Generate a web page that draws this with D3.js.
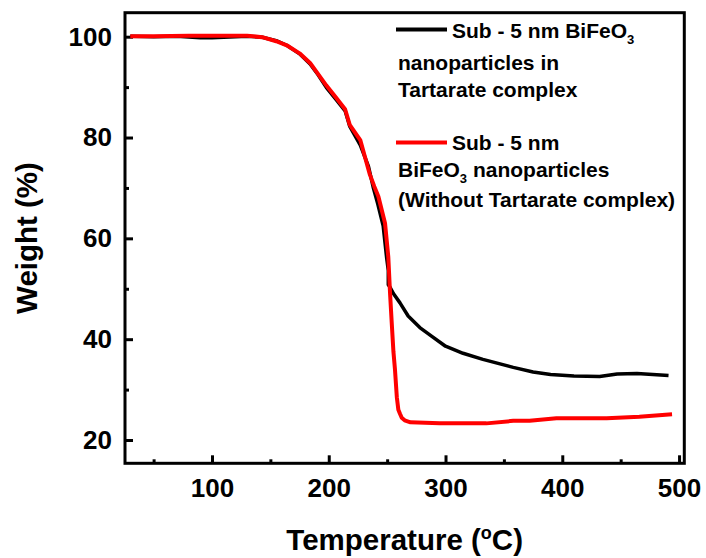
<!DOCTYPE html>
<html>
<head>
<meta charset="utf-8">
<script src="https://cdn.jsdelivr.net/npm/d3@7"></script>
<style>
  body { margin: 0; background: #fff; }
  text { font-family: "Liberation Sans", Arial, sans-serif; font-weight: bold; fill: #000; }
</style>
</head>
<body>
<div id="chart"></div>
<script>
// TGA curves
const tempTartrate = [30, 50, 70, 90, 100, 110, 130, 143, 155, 164, 175, 184, 191, 198, 206, 214, 218, 227, 234, 238, 242, 246.6, 249.5, 251, 251, 252.5, 255.5, 261, 268, 278, 288, 300, 315, 332, 358, 375, 390, 410, 432, 447, 464, 491];
const weightTartrate = [100.1, 100, 100.1, 99.8, 99.8, 99.9, 100.1, 99.9, 99.2, 98.3, 96.6, 94.6, 92.4, 89.9, 87.6, 85.3, 82.2, 78.5, 74.3, 70.2, 66.8, 62.5, 56.3, 53.6, 50.8, 50.3, 49, 47.2, 44.6, 42.3, 40.6, 38.6, 37.2, 36.0, 34.4, 33.5, 33.0, 32.7, 32.6, 33.1, 33.2, 32.8];

const tempPlain = [30, 50, 80, 110, 130, 143, 155, 164, 175, 184, 198, 206, 214, 218, 227, 235, 239, 242.5, 248.2, 251, 252.5, 253.8, 255.4, 256.7, 258.3, 259.6, 261, 262.5, 265, 270, 295, 335, 358, 372, 395, 438, 466, 494];
const weightPlain = [100.1, 100.1, 100.2, 100.2, 100.2, 99.9, 99.1, 98.3, 96.7, 94.8, 90.3, 88, 85.6, 82.5, 79.5, 72.8, 70.3, 68.3, 63.0, 56.3, 49.1, 43.8, 37.5, 34, 28.5, 26, 25.2, 24.4, 23.9, 23.5, 23.3, 23.3, 23.8, 23.8, 24.3, 24.3, 24.6, 25.1];

const xMajor = [100, 200, 300, 400, 500];
const xMinor = [50, 150, 250, 350, 450];
const yMajor = [20, 40, 60, 80, 100];
const yMinor = [30, 50, 70, 90];

const width = 706, height = 558;
const margin = {top: 12.7, right: 21.7, bottom: 94.7, left: 125};

const svg = d3.select("#chart").append("svg")
  .attr("width", width)
  .attr("height", height);

const x = d3.scaleLinear().domain([25.5, 504.5]).range([margin.left, width - margin.right]);
const y = d3.scaleLinear().domain([15.38, 104.76]).range([height - margin.bottom, margin.top]);

const bottomY = height - margin.bottom;

// axes, ticks point inward
svg.append("g")
  .attr("transform", `translate(0,${bottomY})`)
  .call(d3.axisBottom(x).tickValues(xMajor).tickSizeInner(-8).tickSizeOuter(0).tickPadding(15));
svg.append("g")
  .attr("transform", `translate(0,${bottomY})`)
  .call(d3.axisBottom(x).tickValues(xMinor).tickSizeInner(-4).tickSizeOuter(0).tickFormat(""));

svg.append("g")
  .attr("transform", `translate(${margin.left},0)`)
  .call(d3.axisLeft(y).tickValues(yMajor).tickSizeInner(-8).tickSizeOuter(0).tickPadding(13));
svg.append("g")
  .attr("transform", `translate(${margin.left},0)`)
  .call(d3.axisLeft(y).tickValues(yMinor).tickSizeInner(-4).tickSizeOuter(0).tickFormat(""));

svg.selectAll(".domain").remove();
svg.selectAll(".tick line")
  .attr("stroke", "#000")
  .attr("stroke-width", 3);
svg.selectAll(".tick text")
  .style("font-size", "26px")
  .style("font-family", "'Liberation Sans', Arial, sans-serif")
  .style("font-weight", "bold");

// frame
svg.append("rect")
  .attr("x", margin.left)
  .attr("y", margin.top)
  .attr("width", width - margin.left - margin.right)
  .attr("height", height - margin.top - margin.bottom)
  .attr("fill", "none")
  .attr("stroke", "#000")
  .attr("stroke-width", 3);

// curves
const line = d3.line().x(d => x(d[0])).y(d => y(d[1]));

svg.append("path")
  .datum(d3.zip(tempTartrate, weightTartrate))
  .attr("fill", "none")
  .attr("stroke", "#000")
  .attr("stroke-width", 3.5)
  .attr("stroke-linejoin", "round")
  .attr("d", line);

svg.append("path")
  .datum(d3.zip(tempPlain, weightPlain))
  .attr("fill", "none")
  .attr("stroke", "#ff0000")
  .attr("stroke-width", 4)
  .attr("stroke-linejoin", "round")
  .attr("d", line);

// axis titles
svg.append("text")
  .attr("transform", `translate(37,${(margin.top + bottomY) / 2}) rotate(-90)`)
  .style("text-anchor", "middle")
  .style("font-size", "29.5px")
  .text("Weight (%)");

const xTitle = svg.append("text")
  .attr("x", (margin.left + width - margin.right) / 2)
  .attr("y", 550)
  .style("text-anchor", "middle")
  .style("font-size", "29.5px");
xTitle.append("tspan").text("Temperature (");
xTitle.append("tspan").attr("dy", -11).style("font-size", "18px").text("o");
xTitle.append("tspan").attr("dy", 11).text("C)");

// legend
const legend = svg.append("g");
legend.append("line")
  .attr("x1", 396).attr("x2", 447)
  .attr("y1", 29.5).attr("y2", 29.5)
  .attr("stroke", "#000").attr("stroke-width", 4);
legend.append("line")
  .attr("x1", 396).attr("x2", 447)
  .attr("y1", 142.5).attr("y2", 142.5)
  .attr("stroke", "#ff0000").attr("stroke-width", 4);

const legendFont = "21px";
const t1 = legend.append("text").attr("x", 452).attr("y", 37.5).style("font-size", legendFont);
t1.append("tspan").text("Sub - 5 nm BiFeO");
t1.append("tspan").attr("dy", 6).style("font-size", "13px").text("3");

legend.append("text").attr("x", 398).attr("y", 70).style("font-size", legendFont).text("nanoparticles in");
legend.append("text").attr("x", 398).attr("y", 96.5).style("font-size", legendFont).text("Tartarate complex");
legend.append("text").attr("x", 452).attr("y", 150).style("font-size", legendFont).text("Sub - 5 nm");

const t5 = legend.append("text").attr("x", 398).attr("y", 176.5).style("font-size", legendFont);
t5.append("tspan").text("BiFeO");
t5.append("tspan").attr("dy", 6).style("font-size", "13px").text("3");
t5.append("tspan").attr("dy", -6).text(" nanoparticles");

legend.append("text").attr("x", 398).attr("y", 207).style("font-size", legendFont).text("(Without Tartarate complex)");
</script>
</body>
</html>
